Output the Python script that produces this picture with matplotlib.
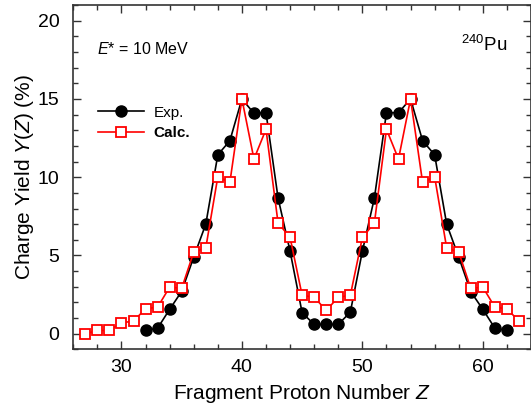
import numpy as np
import matplotlib
matplotlib.use("Agg")
import matplotlib.pyplot as plt
from matplotlib.ticker import MultipleLocator

plt.rcParams["font.family"] = ["Liberation Sans", "DejaVu Sans"]
plt.rcParams["mathtext.fontset"] = "custom"
plt.rcParams["mathtext.rm"] = "Liberation Sans"
plt.rcParams["mathtext.it"] = "Liberation Sans:italic"

# experimental charge yields
exp_z = list(range(32, 63))
exp_y = [0.21, 0.36, 1.56, 2.71, 4.9, 7.0, 11.43, 12.33, 15.0, 14.08,
         14.12, 8.68, 5.27, 1.34, 0.6, 0.6, 0.6, 1.38, 5.27, 8.68,
         14.12, 14.12, 15.0, 12.33, 11.43, 7.0, 4.9, 2.69, 1.56, 0.36, 0.21]

# calculated charge yields
calc_z = list(range(27, 64))
calc_y = [0.0, 0.21, 0.21, 0.70, 0.81, 1.60, 1.70, 2.98, 2.90, 5.22,
          5.48, 10.03, 9.67, 15.0, 11.16, 13.06, 7.08, 6.15, 2.45, 2.34,
          1.49, 2.34, 2.45, 6.15, 7.08, 13.06, 11.16, 15.0, 9.67, 10.03,
          5.48, 5.22, 2.90, 2.98, 1.70, 1.60, 0.81]

fig = plt.figure(figsize=(5.31, 4.16), dpi=100)
ax = fig.add_axes([0.138, 0.160, 0.862, 0.828])

ax.plot(exp_z, exp_y, color="black", lw=1.2, marker="o", ms=8,
        mfc="black", mec="black", label="Exp.", zorder=3)
ax.plot(calc_z, calc_y, color="red", lw=1.2, marker="s", ms=7.5,
        mfc="white", mec="red", mew=1.3, label="Calc.", zorder=4)

ax.set_xlim(26, 64)
ax.set_ylim(-1, 21)
ax.xaxis.set_major_locator(MultipleLocator(10))
ax.xaxis.set_minor_locator(MultipleLocator(2))
ax.yaxis.set_major_locator(MultipleLocator(5))
ax.yaxis.set_minor_locator(MultipleLocator(1))
ax.tick_params(which="both", direction="in", top=True, right=True,
               labelsize=14, color="#333333")
ax.tick_params(which="major", length=6, width=1)
ax.tick_params(axis="x", which="major", pad=7)
ax.tick_params(axis="y", which="major", pad=10)
ax.tick_params(which="minor", length=3.5, width=1)
for sp in ax.spines.values():
    sp.set_linewidth(1.2)
    sp.set_color("#333333")

ax.set_xlabel("Fragment Proton Number $\\it{Z}$", fontsize=15, labelpad=4)
ax.set_ylabel("Charge Yield $\\it{Y}$($\\it{Z}$) (%)", fontsize=15, labelpad=1)

ax.text(0.052, 0.872, "$\\it{E}$* = 10 MeV", transform=ax.transAxes,
        fontsize=11.5, va="center", ha="left")
ax.text(0.948, 0.884, "$^{240}$Pu", transform=ax.transAxes,
        fontsize=13.5, va="center", ha="right")

leg = ax.legend(loc="upper left", bbox_to_anchor=(0.025, 0.748), frameon=False,
                fontsize=11, handlelength=3.0, handletextpad=0.6,
                labelspacing=0.45)
leg.get_texts()[1].set_fontweight("bold")

fig.savefig("out.png", dpi=100)
